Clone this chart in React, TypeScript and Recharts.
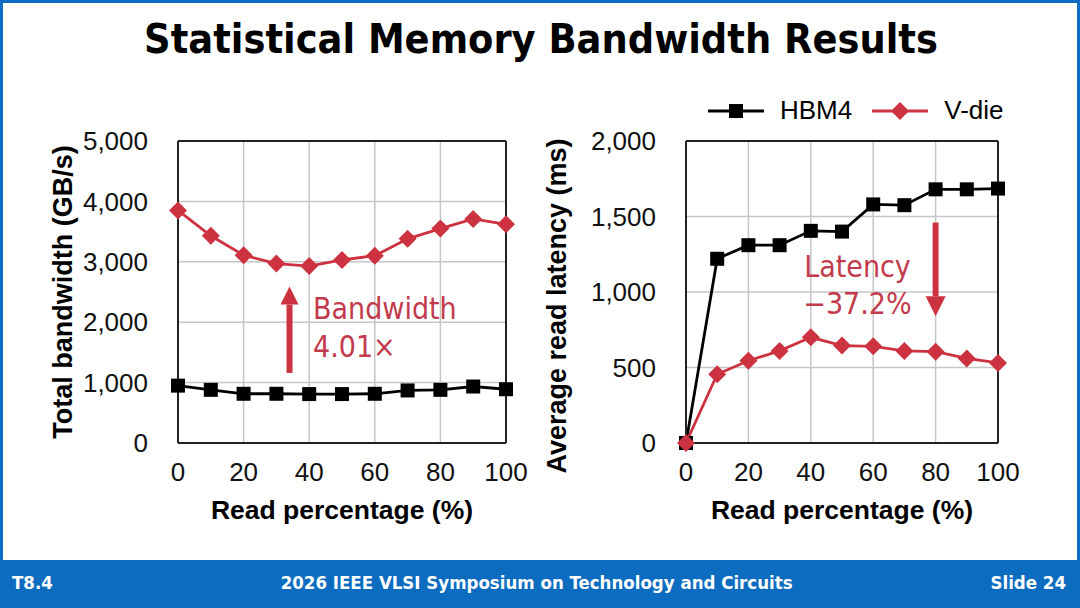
import {
  LineChart,
  Line,
  XAxis,
  YAxis,
  CartesianGrid,
  ReferenceLine,
  Legend,
  Label,
} from "recharts";

const readPct = [0, 10, 20, 30, 40, 50, 60, 70, 80, 90, 100];
const bwHbm4 = [950, 880, 815, 815, 810, 810, 815, 870, 880, 935, 890];
const bwVdie = [3850, 3430, 3110, 2970, 2930, 3030, 3100, 3380, 3550, 3710, 3620];
const latHbm4 = [0, 1220, 1310, 1310, 1405, 1400, 1580, 1575, 1680, 1680, 1685];
const latVdie = [0, 455, 545, 610, 700, 645, 640, 610, 605, 560, 530];

const xTicks = [0, 20, 40, 60, 80, 100];
const bwTicks = [0, 1000, 2000, 3000, 4000, 5000];
const latTicks = [0, 500, 1000, 1500, 2000];

const BLUE = "#0c6cbf";
const RED = "#cd3241";
const TEXT_RED = "#c23a4c";
const CHART_FONT = "'Liberation Sans', Arial, sans-serif";
const SLIDE_FONT = "'DejaVu Sans Condensed', 'DejaVu Sans', sans-serif";

const bwData = readPct.map((x, i) => ({ x, hbm4: bwHbm4[i], vdie: bwVdie[i] }));
const latData = readPct.map((x, i) => ({ x, hbm4: latHbm4[i], vdie: latVdie[i] }));

const fmt = (v: number) => v.toLocaleString("en-US");

const SquareDot = (props: any) => {
  const { cx, cy, index } = props;
  return <rect key={`sq-${index}`} x={cx - 7} y={cy - 7} width={14} height={14} fill="#000" />;
};

const DiamondDot = (props: any) => {
  const { cx, cy, index } = props;
  const r = 9;
  return (
    <polygon
      key={`dm-${index}`}
      points={`${cx},${cy - r} ${cx + r},${cy} ${cx},${cy + r} ${cx - r},${cy}`}
      fill={RED}
    />
  );
};

// arrow drawn from segment start (tail) to segment end (tip)
const arrow = (headLen: number, headW: number, shaftW: number) => (props: any) => {
  const { x1, y1, x2, y2 } = props;
  const dir = Math.sign(y2 - y1);
  const baseY = y2 - dir * headLen;
  return (
    <g>
      <line x1={x1} y1={y1} x2={x1} y2={baseY} stroke={RED} strokeWidth={shaftW} />
      <polygon
        points={`${x2},${y2} ${x2 - headW / 2},${baseY} ${x2 + headW / 2},${baseY}`}
        fill={RED}
      />
    </g>
  );
};

const yTitle = (text: string, x: number, dy: number) => (props: any) => {
  const vb = props.viewBox;
  const cy = vb.y + vb.height / 2 + dy;
  return (
    <text
      x={x}
      y={cy}
      transform={`rotate(-90, ${x}, ${cy})`}
      textAnchor="middle"
      dominantBaseline="central"
      fontFamily={CHART_FONT}
      fontWeight="bold"
      fontSize={27}
      fill="#000"
    >
      {text}
    </text>
  );
};

const xTitle = (props: any) => {
  const vb = props.viewBox;
  return (
    <text
      x={vb.x + vb.width / 2}
      y={vb.y + 76}
      textAnchor="middle"
      fontFamily={CHART_FONT}
      fontWeight="bold"
      fontSize={26.5}
      fill="#000"
    >
      Read percentage (%)
    </text>
  );
};

const LegendBox = (props: any) => {
  const { payload } = props;
  return (
    <div style={{ display: "flex", alignItems: "center", fontFamily: CHART_FONT, fontSize: 26 }}>
      {(payload || []).map((p: any) => (
        <div key={p.value} style={{ display: "flex", alignItems: "center", marginRight: 20 }}>
          <svg width={56} height={20}>
            <line x1={0} y1={10} x2={56} y2={10} stroke={p.color} strokeWidth={3} />
            {p.dataKey === "hbm4" ? (
              <rect x={21} y={3} width={14} height={14} fill="#000" />
            ) : (
              <polygon points="28,1 37,10 28,19 19,10" fill={RED} />
            )}
          </svg>
          <span style={{ marginLeft: 16, color: "#000" }}>{p.value}</span>
        </div>
      ))}
    </div>
  );
};

const tickStyle = { fontFamily: CHART_FONT, fontSize: 26, fill: "#111" };

function BandwidthChart() {
  return (
    <LineChart
      width={500}
      height={420}
      data={bwData}
      margin={{ top: 21, right: 34, left: 0, bottom: 37 }}
    >
      <CartesianGrid stroke="#c6c6c6" strokeWidth={1.5} />
      <XAxis
        dataKey="x"
        type="number"
        domain={[0, 100]}
        ticks={xTicks}
        height={60}
        tickSize={0}
        tickMargin={20}
        tick={tickStyle}
        axisLine={{ stroke: "#222", strokeWidth: 2 }}
      >
        <Label content={xTitle} />
      </XAxis>
      <YAxis
        type="number"
        domain={[0, 5000]}
        ticks={bwTicks}
        width={138}
        tickSize={0}
        tickMargin={30}
        tick={tickStyle}
        tickFormatter={fmt}
        axisLine={{ stroke: "#222", strokeWidth: 2 }}
      >
        <Label content={yTitle("Total bandwidth (GB/s)", 23, 0)} />
      </YAxis>
      <ReferenceLine y={5000} stroke="#222" strokeWidth={2} />
      <ReferenceLine x={100} stroke="#222" strokeWidth={2} />
      <ReferenceLine
        segment={[
          { x: 34, y: 1160 },
          { x: 34, y: 2590 },
        ]}
        shape={arrow(18, 18, 6)}
      />
      <Line
        dataKey="hbm4"
        name="HBM4"
        stroke="#000"
        strokeWidth={2.8}
        dot={SquareDot}
        isAnimationActive={false}
      />
      <Line
        dataKey="vdie"
        name="V-die"
        stroke={RED}
        strokeWidth={2.8}
        dot={DiamondDot}
        isAnimationActive={false}
      />
    </LineChart>
  );
}

function LatencyChart() {
  return (
    <LineChart
      width={520}
      height={460}
      data={latData}
      margin={{ top: 61, right: 52, left: 0, bottom: 37 }}
    >
      <CartesianGrid stroke="#c6c6c6" strokeWidth={1.5} />
      <XAxis
        dataKey="x"
        type="number"
        domain={[0, 100]}
        ticks={xTicks}
        height={60}
        tickSize={0}
        tickMargin={20}
        tick={tickStyle}
        axisLine={{ stroke: "#222", strokeWidth: 2 }}
      >
        <Label content={xTitle} />
      </XAxis>
      <YAxis
        type="number"
        domain={[0, 2000]}
        ticks={latTicks}
        width={156}
        tickSize={0}
        tickMargin={30}
        tick={tickStyle}
        tickFormatter={fmt}
        axisLine={{ stroke: "#222", strokeWidth: 2 }}
      >
        <Label content={yTitle("Average read latency (ms)", 27, 14)} />
      </YAxis>
      <ReferenceLine y={2000} stroke="#222" strokeWidth={2} />
      <ReferenceLine x={100} stroke="#222" strokeWidth={2} />
      <ReferenceLine
        segment={[
          { x: 80, y: 1460 },
          { x: 80, y: 840 },
        ]}
        shape={arrow(20, 20, 6)}
      />
      <Legend
        layout="horizontal"
        verticalAlign="middle"
        align="center"
        content={LegendBox}
        wrapperStyle={{ position: "absolute", top: 15, left: 178, width: 340 }}
      />
      <Line
        dataKey="hbm4"
        name="HBM4"
        stroke="#000"
        strokeWidth={2.8}
        dot={SquareDot}
        isAnimationActive={false}
      />
      <Line
        dataKey="vdie"
        name="V-die"
        stroke={RED}
        strokeWidth={2.8}
        dot={DiamondDot}
        isAnimationActive={false}
      />
    </LineChart>
  );
}

export default function App() {
  return (
    <div
      style={{
        position: "absolute",
        left: 0,
        top: 0,
        width: 1080,
        height: 608,
        background: BLUE,
        overflow: "hidden",
      }}
    >
      <div
        style={{
          position: "absolute",
          left: 3,
          top: 3,
          width: 1074,
          height: 557,
          background: "#fff",
        }}
      />
      <div
        style={{
          position: "absolute",
          top: 15,
          left: 0,
          width: 1082,
          textAlign: "center",
          fontFamily: SLIDE_FONT,
          fontWeight: "bold",
          fontSize: 41,
          color: "#000",
        }}
      >
        Statistical Memory Bandwidth Results
      </div>

      <div style={{ position: "absolute", left: 40, top: 120 }}>
        <BandwidthChart />
      </div>
      <div style={{ position: "absolute", left: 530, top: 80 }}>
        <LatencyChart />
      </div>

      <div
        style={{
          position: "absolute",
          left: 313,
          top: 290,
          fontFamily: SLIDE_FONT,
          fontSize: 30,
          lineHeight: "38px",
          color: TEXT_RED,
        }}
      >
        <div>Bandwidth</div>
        <div>4.01×</div>
      </div>
      <div
        style={{
          position: "absolute",
          left: 795,
          top: 248,
          width: 125,
          textAlign: "center",
          fontFamily: SLIDE_FONT,
          fontSize: 30,
          lineHeight: "37px",
          color: TEXT_RED,
        }}
      >
        <div>Latency</div>
        <div>−37.2%</div>
      </div>

      <div
        style={{
          position: "absolute",
          left: 12,
          right: 14,
          top: 572,
          display: "flex",
          justifyContent: "space-between",
          fontFamily: SLIDE_FONT,
          fontWeight: "bold",
          fontSize: 18.5,
          color: "#fff",
        }}
      >
        <span>T8.4</span>
        <span style={{ marginLeft: 30 }}>2026 IEEE VLSI Symposium on Technology and Circuits</span>
        <span>Slide 24</span>
      </div>
    </div>
  );
}
